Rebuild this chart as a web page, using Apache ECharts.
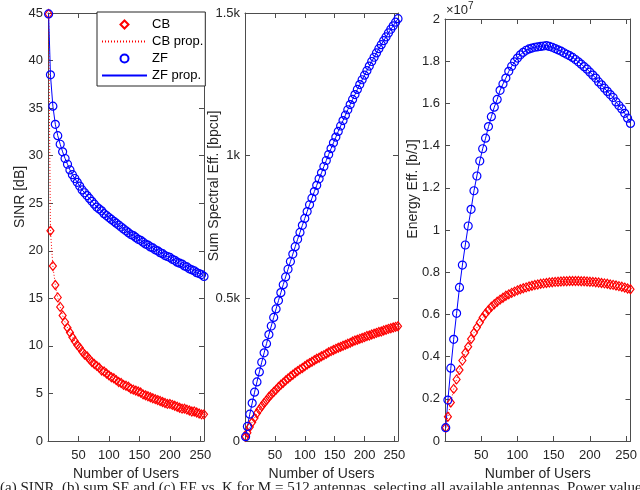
<!DOCTYPE html>
<html lang="en">
<head>
  <meta charset="UTF-8">
  <title>SINR, sum SE and EE vs number of users</title>
  <style>
    html, body { margin: 0; padding: 0; background: #fff; }
    #chart { width: 640px; height: 490px; }
  </style>
</head>
<body>
  <div id="chart"></div>
</body>

<script src="https://cdn.jsdelivr.net/npm/echarts@6/dist/echarts.min.js"></script>

<script>
  // number of users K
  const users = [1, 4, 8, 12, 16, 20, 24, 28, 32, 36,
    40, 44, 48, 52, 56, 60, 64, 68, 72, 76,
    80, 84, 88, 92, 96, 100, 104, 108, 112, 116,
    120, 124, 128, 132, 136, 140, 144, 148, 152, 156,
    160, 164, 168, 172, 176, 180, 184, 188, 192, 196,
    200, 204, 208, 212, 216, 220, 224, 228, 232, 236,
    240, 244, 248, 252, 256];

  // SINR [dB]
  const sinrCB = [44.9, 22.1, 18.4, 16.4, 15.1, 14.1, 13.2, 12.5, 11.9, 11.4,
    10.9, 10.5, 10.1, 9.8, 9.4, 9.1, 8.9, 8.6, 8.3, 8.1,
    7.9, 7.7, 7.4, 7.3, 7.1, 6.9, 6.7, 6.6, 6.4, 6.2,
    6.1, 5.9, 5.8, 5.7, 5.5, 5.4, 5.3, 5.2, 5.1, 4.9,
    4.8, 4.7, 4.6, 4.5, 4.4, 4.3, 4.2, 4.1, 4.0, 3.9,
    3.9, 3.8, 3.7, 3.6, 3.5, 3.4, 3.4, 3.3, 3.2, 3.1,
    3.1, 3.0, 2.9, 2.8, 2.8];
  const sinrZF = [44.9, 38.5, 35.2, 33.3, 32.1, 31.2, 30.4, 29.7, 29.1, 28.5,
    28.0, 27.6, 27.2, 26.8, 26.4, 26.1, 25.8, 25.5, 25.2, 24.9,
    24.6, 24.4, 24.2, 23.9, 23.7, 23.5, 23.3, 23.1, 22.9, 22.7,
    22.5, 22.3, 22.1, 21.9, 21.7, 21.6, 21.4, 21.2, 21.1, 20.9,
    20.7, 20.6, 20.4, 20.3, 20.1, 20.0, 19.8, 19.7, 19.5, 19.4,
    19.3, 19.1, 19.0, 18.8, 18.7, 18.6, 18.4, 18.3, 18.1, 18.0,
    17.9, 17.7, 17.6, 17.5, 17.3];

  // sum spectral efficiency [bpcu]
  const seCB = [15, 29, 49, 66, 81, 97, 110, 122, 133, 143,
    154, 163, 172, 180, 189, 197, 204, 212, 219, 226,
    232, 239, 245, 251, 256, 262, 268, 273, 278, 283,
    288, 292, 297, 301, 306, 311, 315, 319, 323, 327,
    330, 334, 337, 341, 344, 349, 352, 355, 358, 361,
    364, 368, 370, 373, 376, 379, 382, 384, 387, 390,
    393, 395, 398, 400, 402];
  const seZF = [15, 51, 94, 133, 171, 207, 242, 276, 309, 341,
    373, 403, 433, 463, 492, 520, 548, 575, 602, 629,
    655, 681, 707, 731, 756, 780, 804, 828, 851, 874,
    896, 919, 940, 962, 983, 1004, 1025, 1045, 1065, 1085,
    1104, 1123, 1142, 1161, 1179, 1197, 1214, 1232, 1249, 1266,
    1282, 1298, 1314, 1330, 1345, 1360, 1375, 1389, 1403, 1416,
    1430, 1443, 1455, 1468, 1480];

  // energy efficiency [b/J], in units of 1e7
  const eeCB = [0.063, 0.115, 0.182, 0.247, 0.292, 0.336, 0.381, 0.418, 0.447, 0.483,
    0.513, 0.538, 0.562, 0.585, 0.604, 0.621, 0.636, 0.648, 0.660, 0.670,
    0.679, 0.688, 0.695, 0.702, 0.708, 0.714, 0.719, 0.724, 0.728, 0.732,
    0.736, 0.739, 0.742, 0.745, 0.747, 0.749, 0.751, 0.752, 0.754, 0.755,
    0.756, 0.757, 0.757, 0.758, 0.758, 0.758, 0.758, 0.757, 0.757, 0.756,
    0.755, 0.754, 0.752, 0.751, 0.749, 0.747, 0.745, 0.742, 0.740, 0.737,
    0.734, 0.731, 0.727, 0.723, 0.719];
  const eeZF = [0.063, 0.194, 0.345, 0.482, 0.605, 0.728, 0.834, 0.929, 1.019, 1.098,
    1.186, 1.256, 1.327, 1.385, 1.435, 1.490, 1.537, 1.582, 1.619, 1.662,
    1.692, 1.720, 1.752, 1.776, 1.797, 1.815, 1.830, 1.842, 1.852, 1.858,
    1.862, 1.866, 1.868, 1.870, 1.872, 1.874, 1.870, 1.866, 1.860, 1.854,
    1.848, 1.840, 1.833, 1.826, 1.818, 1.808, 1.797, 1.786, 1.774, 1.762,
    1.748, 1.734, 1.720, 1.702, 1.688, 1.672, 1.657, 1.642, 1.628, 1.607,
    1.590, 1.574, 1.553, 1.530, 1.505];

  const seTickLabels = { 0: '0', 500: '0.5k', 1000: '1k', 1500: '1.5k' };

  const txt = '#262626';
  const axisCol = '#4d4d4d';
  const font = 'Liberation Sans';

  const myChart = echarts.init(document.getElementById('chart'));

  const grids = [
    { left: 48, top: 13, width: 156, height: 428 },
    { left: 245, top: 13, width: 153, height: 428 },
    { left: 445, top: 19, width: 188, height: 422 }
  ];
  const yRanges = [
    { min: 0, max: 45, interval: 5, fmt: v => String(v) },
    { min: 0, max: 1500, interval: 500, fmt: v => seTickLabels[v] || '' },
    { min: 0, max: 2, interval: 0.2, fmt: v => String(+v.toFixed(1)) }
  ];

  const xAxis = [];
  const yAxis = [];
  grids.forEach((g, i) => {
    const common = {
      gridIndex: i, type: 'value', min: 0, max: 256, interval: 50,
      axisLine: { show: true, onZero: false, lineStyle: { color: axisCol, width: 1 } },
      axisTick: { show: true, inside: true, length: 5, lineStyle: { color: axisCol } },
      splitLine: { show: false }
    };
    xAxis.push(Object.assign({}, common, {
      position: 'bottom',
      axisLabel: {
        color: txt, fontSize: 13, fontFamily: font, margin: 8,
        showMaxLabel: false,
        formatter: v => (v === 0 || v === 256) ? '' : String(v)
      },
      name: 'Number of Users', nameLocation: 'middle', nameGap: 23,
      nameTextStyle: { color: txt, fontSize: 14, fontFamily: font }
    }));
    xAxis.push(Object.assign({}, common, {
      position: 'top', axisLabel: { show: false }
    }));
    const r = yRanges[i];
    const ycommon = {
      gridIndex: i, type: 'value', min: r.min, max: r.max, interval: r.interval,
      axisLine: { show: true, onZero: false, lineStyle: { color: axisCol, width: 1 } },
      axisTick: { show: true, inside: true, length: 5, lineStyle: { color: axisCol } },
      splitLine: { show: false }
    };
    yAxis.push(Object.assign({}, ycommon, {
      position: 'left',
      axisLabel: { color: txt, fontSize: 13, fontFamily: font, margin: 5, formatter: r.fmt }
    }));
    yAxis.push(Object.assign({}, ycommon, {
      position: 'right', axisLabel: { show: false }
    }));
  });

  function pts(ys) {
    return users.map((k, i) => [k, ys[i]]);
  }

  function markers(name, gi, ys, symbol, color, size) {
    return {
      name: name, type: 'line', xAxisIndex: gi * 2, yAxisIndex: gi * 2,
      data: pts(ys), symbol: symbol, symbolSize: size, showSymbol: true,
      lineStyle: { opacity: 0 },
      itemStyle: { color: 'rgba(0,0,0,0)', borderColor: color, borderWidth: 1.2 },
      emphasis: { disabled: true }
    };
  }

  function propLine(name, gi, ys, color, type) {
    return {
      name: name, type: 'line', xAxisIndex: gi * 2, yAxisIndex: gi * 2,
      data: pts(ys), symbol: 'none', showSymbol: false,
      lineStyle: { color: color, width: 1, type: type },
      itemStyle: { color: color, opacity: 0 },
      emphasis: { disabled: true }
    };
  }

  const dataSets = [[sinrCB, sinrZF], [seCB, seZF], [eeCB, eeZF]];
  const series = [];
  dataSets.forEach((d, gi) => {
    series.push(markers('CB', gi, d[0], 'diamond', '#ff0000', [7, 9]));
    series.push(propLine('CB prop.', gi, d[0], '#ff0000', [1, 2]));
    series.push(markers('ZF', gi, d[1], 'circle', '#0000ff', 8));
    series.push(propLine('ZF prop.', gi, d[1], '#0000ff', 'solid'));
  });

  const option = {
    animation: false,
    backgroundColor: '#fff',
    textStyle: { fontFamily: font },
    grid: grids,
    xAxis: xAxis,
    yAxis: yAxis,
    legend: {
      data: [
        { name: 'CB' },
        { name: 'CB prop.', itemStyle: { opacity: 0 } },
        { name: 'ZF' },
        { name: 'ZF prop.', itemStyle: { opacity: 0 } }
      ],
      orient: 'vertical',
      left: 97, top: 12,
      itemWidth: 45, itemHeight: 10, itemGap: 4,
      padding: [6, 2, 4, 4],
      borderColor: '#262626', borderWidth: 1,
      backgroundColor: '#fff',
      selectedMode: false,
      textStyle: { color: '#000', fontSize: 13, fontFamily: font }
    },
    graphic: [
      { type: 'text', x: 20, y: 197, rotation: Math.PI / 2,
        style: { text: 'SINR [dB]', fill: txt, font: '14px "Liberation Sans"', align: 'center', verticalAlign: 'middle' } },
      { type: 'text', x: 214, y: 186, rotation: Math.PI / 2,
        style: { text: 'Sum Spectral Eff. [bpcu]', fill: txt, font: '14px "Liberation Sans"', align: 'center', verticalAlign: 'middle' } },
      { type: 'text', x: 413, y: 189, rotation: Math.PI / 2,
        style: { text: 'Energy Eff. [b/J]', fill: txt, font: '14px "Liberation Sans"', align: 'center', verticalAlign: 'middle' } },
      { type: 'text', x: 446, y: 4,
        style: { text: '\u00d710', fill: txt, font: '13px "Liberation Sans"' } },
      { type: 'text', x: 468, y: 1,
        style: { text: '7', fill: txt, font: '10px "Liberation Sans"' } },
      { type: 'text', x: 0, y: 481,
        style: { text: '(a) SINR, (b) sum SE and (c) EE vs. K for M = 512 antennas, selecting all available antennas. Power values (21)',
          fill: '#222', font: '15px "Liberation Serif"' } }
    ],
    series: series
  };

  myChart.setOption(option);
</script>

</html>
